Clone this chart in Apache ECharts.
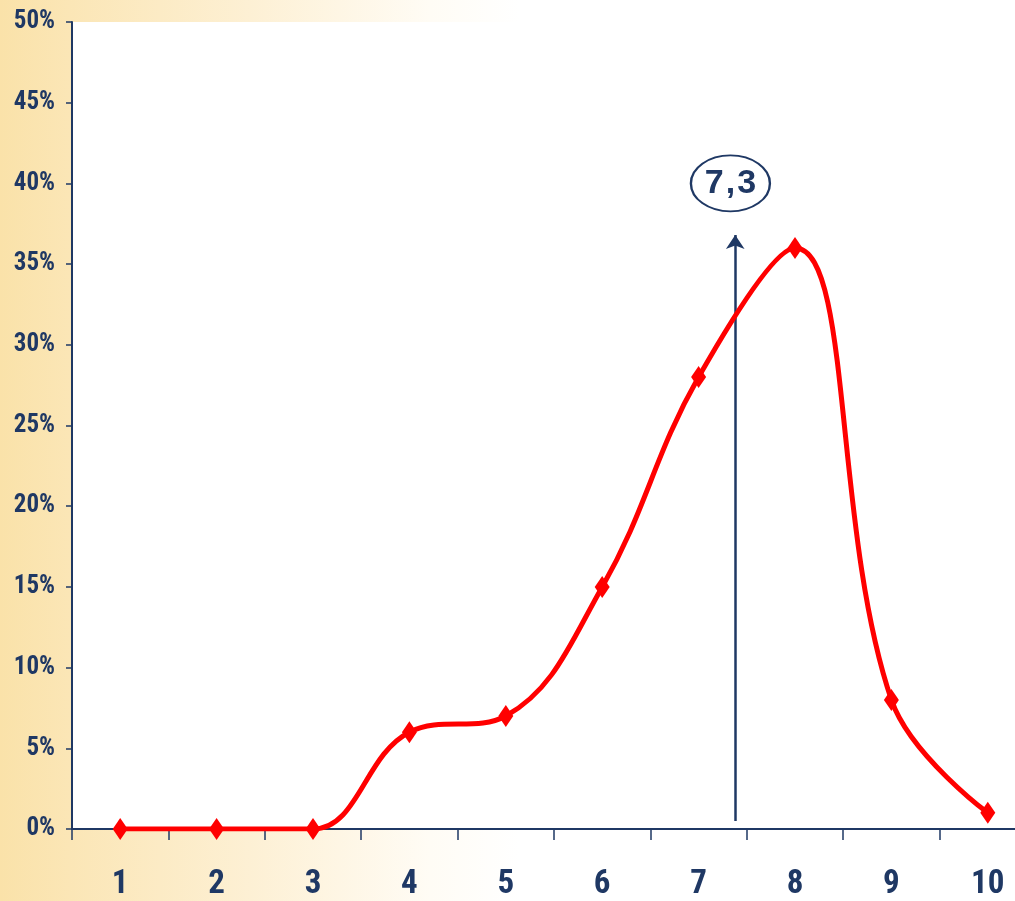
<!DOCTYPE html>
<html>
<head>
<meta charset="utf-8">
<script src="https://cdn.jsdelivr.net/npm/echarts@6/dist/echarts.min.js"></script>
<style>
  html, body { margin: 0; padding: 0; overflow: hidden; width: 1015px; height: 901px; }
  #chart {
    width: 1036px; height: 901px;
    background: linear-gradient(to right, #FAE2A9 0px, #FBE6B6 70px, #FDF0D4 250px, #FFFCF5 430px, #FFFFFF 520px);
  }
</style>
</head>
<body>
<div id="chart"></div>
<script>
// ---- data ----
var categories = ['1', '2', '3', '4', '5', '6', '7', '8', '9', '10'];
var shares = [0, 0, 0, 6, 7, 15, 28, 36, 8, 1];          // percent
var yTicks = { min: 0, max: 50, interval: 5 };
var meanLabel = ['7', ',', '3'];
// annotation placement (layout, not data)
var arrowX = 7.38, arrowFrom = 0.5, arrowTo = 36.8;
var bubbleX = 7.33, bubbleY = 40.0;

var navy = '#1F3864';
var axisFont = "'Roboto Condensed', 'Liberation Sans Narrow', Roboto, sans-serif";
var bubbleFont = "'Liberation Sans', Arial, sans-serif";

var chart = echarts.init(document.getElementById('chart'), null, { renderer: 'canvas' });
chart.setOption({
  animation: false,
  backgroundColor: 'transparent',
  grid: {
    left: 72, top: 22, right: 0, height: 808,
    show: true, backgroundColor: '#FFFFFF', borderWidth: 0, containLabel: false
  },
  xAxis: [{
    type: 'category',
    data: categories,
    boundaryGap: true,
    axisLine: { lineStyle: { color: navy, width: 2 } },
    axisTick: { show: true, length: 11, alignWithLabel: false, lineStyle: { color: navy, width: 1.5 } },
    axisLabel: { color: navy, fontFamily: axisFont, fontWeight: 'bold', fontSize: 33, margin: 39 },
    splitLine: { show: false }
  }, {
    type: 'value', min: 0.5, max: 10.5, show: false
  }],
  yAxis: [{
    type: 'value',
    min: yTicks.min, max: yTicks.max, interval: yTicks.interval,
    axisLine: { show: true, lineStyle: { color: navy, width: 2 } },
    axisTick: { show: true, length: 6, lineStyle: { color: navy, width: 1.5 } },
    axisLabel: { color: navy, fontFamily: axisFont, fontWeight: 'bold', fontSize: 25, margin: 17,
                 formatter: '{value}%' },
    splitLine: { show: false }
  }],
  series: [{
    type: 'line',
    data: shares,
    smooth: 0.4,
    symbol: 'diamond',
    symbolSize: [15, 22],
    lineStyle: { color: '#FF0000', width: 5 },
    itemStyle: { color: '#FF0000' },
    z: 5
  }, {
    type: 'line',
    xAxisIndex: 1,
    data: [],
    markLine: {
      silent: true,
      symbol: ['none', 'arrow'],
      symbolSize: 14,
      label: { show: false },
      lineStyle: { color: navy, width: 2.5, type: 'solid', opacity: 1 },
      data: [[{ coord: [arrowX, arrowFrom] }, { coord: [arrowX, arrowTo] }]]
    },
    z: 4
  }, {
    type: 'scatter',
    xAxisIndex: 1,
    data: [[bubbleX, bubbleY]],
    symbol: 'circle',
    symbolSize: [79, 56],
    itemStyle: { color: '#FFFFFF', borderColor: navy, borderWidth: 2, opacity: 1 },
    label: {
      show: true, position: 'inside',
      formatter: '{t|' + meanLabel[0] + '}{c|' + meanLabel[1] + '}{t|' + meanLabel[2] + '}',
      rich: {
        t: { color: navy, fontFamily: bubbleFont, fontWeight: 'bold', fontSize: 34 },
        c: { color: navy, fontFamily: bubbleFont, fontWeight: 'bold', fontSize: 34, padding: [0, 2, 0, 2] }
      }
    },
    z: 6
  }]
});
</script>
</body>
</html>
